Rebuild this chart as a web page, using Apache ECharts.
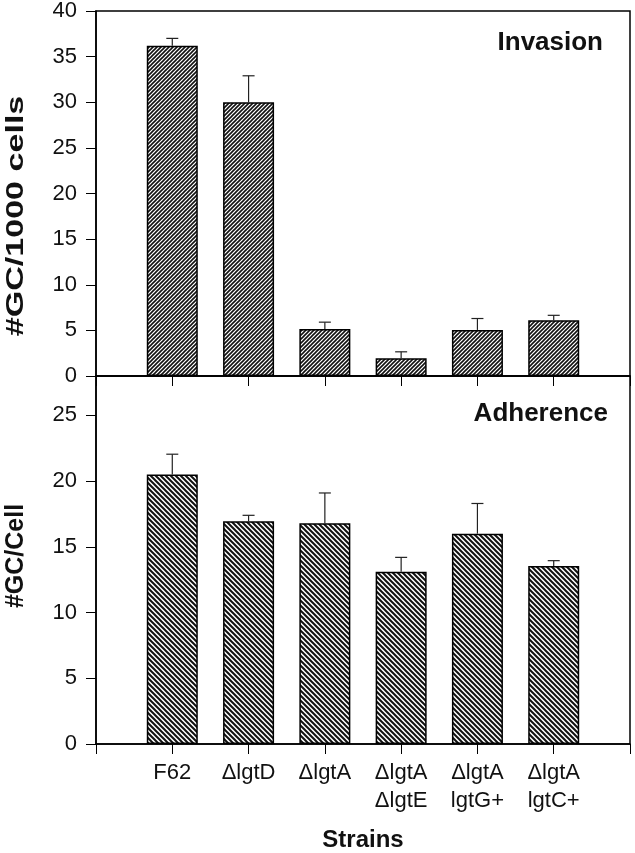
<!DOCTYPE html>
<html>
<head>
<meta charset="utf-8">
<script src="https://cdn.jsdelivr.net/npm/echarts@6/dist/echarts.min.js"></script>
<style>
html,body{margin:0;padding:0;background:#fff;}
#chart{width:635px;height:853px;}
</style>
</head>
<body>
<div id="chart"></div>
<script>
// ---- data ----
const categories = ['F62', 'ΔlgtD', 'ΔlgtA', 'ΔlgtA\nΔlgtE', 'ΔlgtA\nlgtG+', 'ΔlgtA\nlgtC+'];
const invasion = [36.2, 30.0, 5.15, 1.95, 5.05, 6.1];
const invasionErr = [0.8, 2.9, 0.75, 0.7, 1.25, 0.55];
const adherence = [20.5, 16.95, 16.8, 13.1, 16.0, 13.55];
const adherenceErr = [1.55, 0.45, 2.3, 1.1, 2.3, 0.4];
const invasionTicks = [0, 5, 10, 15, 20, 25, 30, 35, 40];
const adherenceTicks = [0, 5, 10, 15, 20, 25];

function hatch(size, lw, dir) {
  const c = document.createElement('canvas');
  c.width = size; c.height = size;
  const ctx = c.getContext('2d');
  ctx.fillStyle = '#fff';
  ctx.fillRect(0, 0, size, size);
  ctx.strokeStyle = '#111';
  ctx.lineWidth = lw;
  ctx.beginPath();
  if (dir === '/') {
    ctx.moveTo(-1, size + 1); ctx.lineTo(size + 1, -1);
    ctx.moveTo(-1, 1); ctx.lineTo(1, -1);
    ctx.moveTo(size - 1, size + 1); ctx.lineTo(size + 1, size - 1);
  } else {
    ctx.moveTo(-1, -1); ctx.lineTo(size + 1, size + 1);
    ctx.moveTo(size - 1, -1); ctx.lineTo(size + 1, 1);
    ctx.moveTo(-1, size - 1); ctx.lineTo(1, size + 1);
  }
  ctx.stroke();
  return c;
}

const toPairs = (arr) => arr.map((v, i) => [i + 1, v]);
const toTriples = (arr, err) => arr.map((v, i) => [i + 1, v, err[i]]);

function errRender(params, api) {
  const x = api.value(0), v = api.value(1), e = api.value(2);
  const p0 = api.coord([x, v]);
  const p1 = api.coord([x, v + e]);
  const st = { stroke: '#222', lineWidth: 1.2 };
  return {
    type: 'group',
    children: [
      { type: 'line', shape: { x1: p0[0], y1: p0[1], x2: p1[0], y2: p1[1] }, style: st },
      { type: 'line', shape: { x1: p1[0] - 6, y1: p1[1], x2: p1[0] + 6, y2: p1[1] }, style: st }
    ]
  };
}

const FONT = 'Liberation Sans, Arial, sans-serif';
const chart = echarts.init(document.getElementById('chart'), null, { renderer: 'canvas' });

const axisLineStyle = { color: '#000', width: 1.5 };
const tickStyle = { color: '#000', width: 1 };

const option = {
  backgroundColor: '#fff',
  animation: false,
  grid: [
    { left: 96, right: 5, top: 10, height: 366, show: true, borderColor: '#000', borderWidth: 1.5, backgroundColor: 'transparent' },
    { left: 96, right: 5, top: 376, bottom: 109, show: true, borderColor: '#000', borderWidth: 1.5, backgroundColor: 'transparent' }
  ],
  xAxis: [
    {
      gridIndex: 0, type: 'value', min: 0, max: 7, interval: 1,
      axisLine: { show: true, lineStyle: axisLineStyle },
      axisTick: { show: true, length: 10, lineStyle: tickStyle },
      axisLabel: { show: false },
      splitLine: { show: false }
    },
    {
      gridIndex: 1, type: 'value', min: 0, max: 7, interval: 1,
      axisLine: { show: true, lineStyle: axisLineStyle },
      axisTick: { show: true, length: 10, lineStyle: tickStyle },
      axisLabel: {
        show: true, margin: 15, fontFamily: FONT, fontSize: 22, lineHeight: 28, color: '#111',
        formatter: (v) => (v >= 1 && v <= categories.length) ? categories[v - 1] : ''
      },
      splitLine: { show: false },
      name: 'Strains', nameLocation: 'middle', nameGap: 84,
      nameTextStyle: { fontFamily: FONT, fontSize: 24, fontWeight: 'bold', color: '#111' }
    }
  ],
  yAxis: [
    {
      gridIndex: 0, type: 'value', min: invasionTicks[0], max: invasionTicks[invasionTicks.length - 1], interval: 5,
      axisLine: { show: true, lineStyle: axisLineStyle },
      axisTick: { show: true, length: 10, lineStyle: tickStyle },
      axisLabel: { margin: 19, fontFamily: FONT, fontSize: 22, color: '#111',
        formatter: (v) => invasionTicks.includes(v) ? String(v) : '' },
      splitLine: { show: false }
    },
    {
      gridIndex: 1, type: 'value', min: 0, max: 28, interval: 5,
      axisLine: { show: true, lineStyle: axisLineStyle },
      axisTick: { show: true, length: 10, lineStyle: tickStyle },
      axisLabel: { margin: 19, fontFamily: FONT, fontSize: 22, color: '#111',
        formatter: (v) => adherenceTicks.includes(v) ? String(v) : '' },
      splitLine: { show: false }
    }
  ],
  graphic: [
    { type: 'text', right: 32, top: 30,
      style: { text: 'Invasion', font: 'bold 26px ' + FONT, fill: '#111' } },
    { type: 'text', right: 27, top: 401,
      style: { text: 'Adherence', font: 'bold 26px ' + FONT, fill: '#111' } },
    { type: 'text', x: 16, y: 216, rotation: Math.PI / 2, scaleX: 1.42,
      style: { text: '#GC/1000 cells', font: 'bold 24px ' + FONT, fill: '#111', align: 'center', verticalAlign: 'middle' } },
    { type: 'text', x: 16, y: 556, rotation: Math.PI / 2,
      style: { text: '#GC/Cell', font: 'bold 25px ' + FONT, fill: '#111', align: 'center', verticalAlign: 'middle' } }
  ],
  series: [
    {
      type: 'bar', xAxisIndex: 0, yAxisIndex: 0, barWidth: 51,
      data: toPairs(invasion),
      itemStyle: { color: { image: hatch(4, 1.6, '/'), repeat: 'repeat' }, borderColor: '#000', borderWidth: 1.5 }
    },
    {
      type: 'custom', xAxisIndex: 0, yAxisIndex: 0, renderItem: errRender, z: 3,
      data: toTriples(invasion, invasionErr)
    },
    {
      type: 'bar', xAxisIndex: 1, yAxisIndex: 1, barWidth: 51,
      data: toPairs(adherence),
      itemStyle: { color: { image: hatch(5, 2.0, '\\'), repeat: 'repeat' }, borderColor: '#000', borderWidth: 1.5 }
    },
    {
      type: 'custom', xAxisIndex: 1, yAxisIndex: 1, renderItem: errRender, z: 3,
      data: toTriples(adherence, adherenceErr)
    }
  ]
};
chart.setOption(option);
</script>
</body>
</html>
